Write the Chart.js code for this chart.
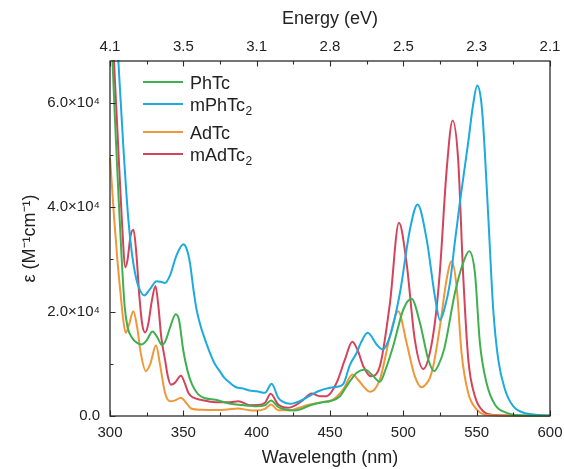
<!DOCTYPE html>
<html>
<head>
<meta charset="utf-8">
<script src="https://cdn.jsdelivr.net/npm/chart.js@4.4.1/dist/chart.umd.min.js"></script>
<style>
  html, body { margin: 0; padding: 0; background: #fff; }
  #chart { display: block; }
</style>
</head>
<body>
<canvas id="chart" width="564" height="469"></canvas>
<script>
// absorption spectra, wavelength (nm) vs molar absorptivity (M^-1 cm^-1)
const phtcNm = [300, 302, 304, 306, 308, 310, 312, 315, 318, 321.5, 325, 329, 332, 335.5, 338, 341, 344.8, 347, 350, 353, 356, 360, 365, 372, 382, 390, 400, 405.7, 409.8, 414.7, 419, 425, 430, 436, 445, 450, 456.8, 461.3, 465, 468.2, 473.8, 479, 484, 488, 493, 500, 505.6, 511.3, 517, 521, 524, 528, 535.2, 540.8, 544.9, 548.8, 552.2, 556.7, 562.4, 570.4, 580, 600];
const phtcEps = [80000, 66000, 53000, 41000, 30000, 21000, 17000, 15000, 14100, 13700, 14500, 16200, 15200, 13600, 14500, 17000, 19500, 18500, 12500, 8500, 6000, 4200, 3400, 3100, 2330, 2100, 1880, 2070, 2970, 1720, 1300, 1050, 1300, 2010, 2650, 2840, 3790, 5710, 7200, 8280, 8910, 7800, 6550, 9000, 13300, 20400, 22450, 17860, 10830, 8600, 9800, 13000, 23600, 29350, 31580, 27440, 14020, 6360, 2200, 610, 150, 30];

const mphtc2Nm = [300, 305.7, 309, 312.5, 315, 317, 319.3, 323.4, 327, 331.8, 334.5, 337.5, 341, 345, 350, 352, 354.5, 357, 359, 362, 365, 368, 371.6, 375, 378, 382, 386, 390, 395, 400, 405.7, 410.2, 414.7, 418, 422.7, 427, 431.8, 437, 442, 450, 455, 459, 463.6, 468.2, 471, 475.7, 481.8, 485.9, 490.9, 497.7, 504.5, 509.7, 515.9, 521.5, 525, 528, 531.8, 535, 538.6, 544.2, 547.5, 550.4, 553, 554.5, 557.9, 561.3, 564.7, 569.3, 574.9, 584, 600];
const mphtc2Eps = [93000, 68000, 52000, 37650, 31000, 27500, 24900, 23100, 24200, 25800, 25700, 25500, 27000, 30500, 32900, 32200, 29350, 24000, 20400, 17000, 14500, 12200, 9900, 8500, 7300, 6300, 5500, 5300, 4900, 4750, 4440, 6170, 3490, 2700, 2330, 2600, 3160, 4000, 4750, 5400, 5600, 6100, 9800, 12110, 14000, 15940, 13700, 12740, 15290, 23600, 35730, 40520, 33820, 22950, 18400, 20500, 25500, 33000, 41000, 52350, 59500, 63300, 60500, 55520, 38280, 20410, 10830, 5080, 1880, 480, 100];

const adtcNm = [300, 302.9, 305, 307, 309, 310.7, 313, 315.9, 318.5, 321, 324.5, 327.5, 331.4, 334, 337.5, 340.9, 344, 348.4, 352, 355.7, 362, 372, 380, 387, 395, 400, 405.7, 409.8, 414.7, 423, 428, 434.1, 440, 445.4, 452.2, 459, 465.3, 469, 472.7, 477.4, 484, 490.9, 496.5, 502.2, 507.8, 512.5, 516, 518.1, 520.4, 525, 529.5, 532.9, 536.3, 539.7, 544.2, 550, 557, 600];
const adtcEps = [49500, 37650, 30000, 24000, 18500, 15940, 17500, 20080, 17000, 12000, 8580, 10000, 13570, 10000, 4440, 2840, 2950, 3490, 2500, 1380, 1200, 1150, 1250, 1450, 1100, 1050, 1380, 2200, 1120, 1120, 1500, 2070, 2400, 2710, 3160, 5080, 7950, 7000, 5710, 4630, 7000, 15290, 20080, 14020, 7630, 5500, 6300, 7320, 9540, 17210, 26150, 29660, 24870, 12110, 4440, 1250, 200, 20];

const madtc2Nm = [300, 302.7, 305, 308, 310.5, 312, 314, 316, 318, 320, 322, 324, 326, 328.5, 331, 333, 335, 337.5, 339.5, 341.5, 344, 348.4, 351, 353.5, 357, 362, 372, 381.8, 387.5, 395.4, 400, 405.7, 409.5, 414.7, 421.5, 426, 430.7, 437.5, 443.2, 447.7, 454.5, 460.2, 465.2, 469, 472.7, 477.9, 484, 490.9, 497, 502.2, 507.8, 513.6, 518, 522, 525, 529.5, 533.6, 537.4, 540.8, 544.3, 548.8, 554.5, 562, 600];
const madtc2Eps = [85000, 68000, 55000, 38000, 28500, 30000, 34500, 35700, 31000, 23000, 17500, 16000, 17500, 22000, 24900, 21000, 15000, 10800, 7500, 6000, 6300, 7700, 6300, 4400, 3500, 3100, 2650, 2650, 2840, 2070, 2100, 2530, 4250, 2200, 1570, 2000, 2840, 4310, 3790, 3790, 6360, 10830, 14200, 12500, 9540, 7630, 9540, 21690, 37000, 29350, 14660, 9000, 12000, 19000, 28000, 47000, 56600, 49000, 27000, 10800, 3800, 920, 200, 30];

const seriesNames = ['PhTc', 'mPhTc₂', 'AdTc', 'mAdTc₂'];
const seriesColors = ['#3fb04f', '#1caadf', '#f0973a', '#d5435b'];

const wavelengthTicks = [300, 350, 400, 450, 500, 550, 600];
const wavelengthMinor = [325, 375, 425, 475, 525, 575];
const epsTicks = [0, 20000, 40000, 60000];
const epsMinor = [10000, 30000, 50000];

const FONT = "'Liberation Sans', Arial, sans-serif";
Chart.defaults.font.family = FONT;
Chart.defaults.color = '#222';

function pairs(xs, ys) {
  return xs.map((x, i) => ({ x: x, y: ys[i] }));
}

const spectra = [
  pairs(phtcNm, phtcEps),
  pairs(mphtc2Nm, mphtc2Eps),
  pairs(adtcNm, adtcEps),
  pairs(madtc2Nm, madtc2Eps)
];

// fixed axis box sizes so the plot frame lands where it should
function fixBox(size, key) {
  return s => {
    s[key] = size;
    s.paddingLeft = s.paddingRight = s.paddingTop = s.paddingBottom = 0;
  };
}

// frame, inward tick marks and the in-plot legend
const framePlugin = {
  id: 'framePlugin',
  afterDraw(chart) {
    const { ctx, chartArea: a, scales } = chart;
    const x = scales.x, y = scales.y;
    ctx.save();
    ctx.strokeStyle = '#2b2b2b';
    ctx.lineWidth = 1.3;
    ctx.strokeRect(a.left, a.top, a.right - a.left, a.bottom - a.top);

    ctx.lineWidth = 1.1;
    ctx.beginPath();
    const xTick = (v, len) => {
      const px = Math.round(x.getPixelForValue(v)) + 0.5;
      ctx.moveTo(px, a.bottom); ctx.lineTo(px, a.bottom - len);
      ctx.moveTo(px, a.top); ctx.lineTo(px, a.top + len);
    };
    const yTick = (v, len) => {
      const py = Math.round(y.getPixelForValue(v)) + 0.5;
      ctx.moveTo(a.left, py); ctx.lineTo(a.left + len, py);
    };
    wavelengthTicks.forEach(v => xTick(v, 5.5));
    wavelengthMinor.forEach(v => xTick(v, 3.5));
    epsTicks.forEach(v => yTick(v, 5.5));
    epsMinor.forEach(v => yTick(v, 3.5));
    ctx.stroke();

    // legend
    let ly = 82;
    chart.data.datasets.forEach(ds => {
      ctx.strokeStyle = ds.borderColor;
      ctx.lineWidth = 2;
      ctx.beginPath();
      ctx.moveTo(143, ly); ctx.lineTo(183, ly);
      ctx.stroke();

      const sub = ds.label.endsWith('₂');
      const base = sub ? ds.label.slice(0, -1) : ds.label;
      ctx.fillStyle = '#222';
      ctx.textBaseline = 'alphabetic';
      ctx.font = '18px ' + FONT;
      ctx.fillText(base, 190, ly + 6.5);
      if (sub) {
        const w = ctx.measureText(base).width;
        ctx.font = '12px ' + FONT;
        ctx.fillText('2', 190 + w + 0.5, ly + 11);
      }
      ly += sub ? 28 : 22;
    });
    ctx.restore();
  }
};

new Chart(document.getElementById('chart'), {
  type: 'line',
  data: {
    datasets: spectra.map((pts, i) => ({
      label: seriesNames[i],
      data: pts,
      borderColor: seriesColors[i],
      borderWidth: 2,
      pointRadius: 0,
      cubicInterpolationMode: 'monotone',
      fill: false,
      clip: 1
    }))
  },
  options: {
    responsive: false,
    animation: false,
    events: [],
    layout: { padding: { left: 0, right: 14, top: 0, bottom: 0 } },
    plugins: { legend: { display: false }, tooltip: { enabled: false } },
    scales: {
      x: {
        type: 'linear',
        position: 'bottom',
        min: 300,
        max: 600,
        afterBuildTicks: s => { s.ticks = wavelengthTicks.map(v => ({ value: v })); },
        afterFit: fixBox(53, 'height'),
        grid: { display: false, drawTicks: false },
        border: { display: false },
        ticks: { font: { size: 15 }, padding: 8, maxRotation: 0 },
        title: { display: true, text: 'Wavelength (nm)', font: { size: 18 }, padding: { top: 0, bottom: 0 } }
      },
      energy: {
        type: 'linear',
        position: 'top',
        min: 300,
        max: 600,
        afterBuildTicks: s => { s.ticks = wavelengthTicks.map(v => ({ value: v })); },
        afterFit: fixBox(61, 'height'),
        grid: { display: false, drawTicks: false },
        border: { display: false },
        ticks: { font: { size: 15 }, padding: 5, maxRotation: 0, callback: v => (1240 / v).toFixed(1) },
        title: { display: true, text: 'Energy (eV)', font: { size: 18 }, padding: { top: 8, bottom: 0 } }
      },
      y: {
        type: 'linear',
        min: 0,
        max: 68000,
        afterBuildTicks: s => { s.ticks = epsTicks.map(v => ({ value: v })); },
        afterFit: fixBox(110, 'width'),
        grid: { display: false, drawTicks: false },
        border: { display: false },
        ticks: {
          font: { size: 15 },
          padding: 10,
          callback: v => v === 0 ? '0.0' : (v / 10000).toFixed(1) + '×10⁴'
        },
        title: { display: true, text: 'ε (M⁻¹cm⁻¹)', font: { size: 18 }, padding: { top: 19, bottom: 0 } }
      }
    }
  },
  plugins: [framePlugin]
});
</script>
</body>
</html>
